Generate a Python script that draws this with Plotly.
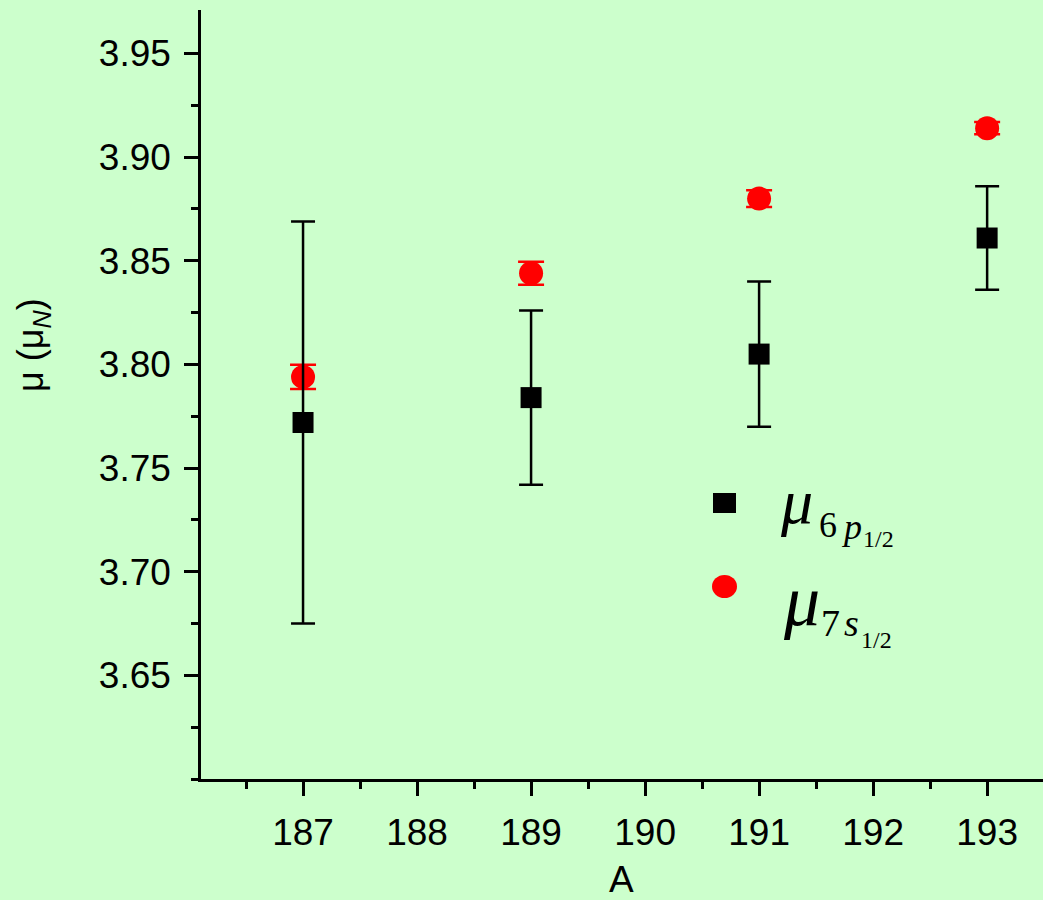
import plotly.graph_objects as go

# ---- data ----
mass_numbers = [187, 189, 191, 193]
mu_6p = [3.772, 3.784, 3.805, 3.861]
mu_6p_err = [0.097, 0.042, 0.035, 0.025]
mu_7s = [3.794, 3.844, 3.880, 3.914]
mu_7s_err = [0.0058, 0.0055, 0.004, 0.003]

x_ticks = [187, 188, 189, 190, 191, 192, 193]
y_ticks = [3.65, 3.70, 3.75, 3.80, 3.85, 3.90, 3.95]

BG = "#CCFFCC"
W, H = 1043, 900
L, R, T, B = 201, 0, 10, 121


def px(x):
    return (x - L) / (W - L - R)


def py(y):
    return (H - B - y) / (H - T - B)


fig = go.Figure()

fig.add_trace(go.Scatter(
    x=mass_numbers, y=mu_7s, mode="markers",
    marker=dict(symbol="circle", size=24, color="#FF0000", line=dict(width=0)),
    error_y=dict(type="data", array=mu_7s_err, visible=True, color="#FF0000",
                 thickness=2.5, width=13),
    showlegend=False,
))
fig.add_trace(go.Scatter(
    x=mass_numbers, y=mu_6p, mode="markers",
    marker=dict(symbol="square", size=21, color="#000000", line=dict(width=0)),
    error_y=dict(type="data", array=mu_6p_err, visible=True, color="#000000",
                 thickness=2.5, width=12),
    showlegend=False,
))

axis_font = dict(family="Liberation Sans, Arial", size=37, color="#000000")

fig.update_xaxes(
    range=[186.105, 193.49], tickmode="array", tickvals=x_ticks,
    ticktext=[str(v) for v in x_ticks],
    showline=True, linecolor="#000000", linewidth=2.5,
    ticks="outside", ticklen=14, tickwidth=2.5, tickcolor="#000000",
    minor=dict(ticks="outside", ticklen=7, tickwidth=2.5, tickcolor="#000000",
               dtick=0.5, showgrid=False),
    showgrid=False, zeroline=False, tickfont=axis_font,
    ticklabelstandoff=5,
)
fig.update_yaxes(
    range=[3.60, 3.971], tickmode="array", tickvals=y_ticks,
    ticktext=[f"{v:.2f}" for v in y_ticks],
    showline=True, linecolor="#000000", linewidth=2.5,
    ticks="outside", ticklen=14, tickwidth=2.5, tickcolor="#000000",
    minor=dict(ticks="outside", ticklen=7, tickwidth=2.5, tickcolor="#000000",
               dtick=0.025, showgrid=False),
    showgrid=False, zeroline=False, tickfont=axis_font,
    ticklabelstandoff=6,
)

serif = "Liberation Serif, Times New Roman"
ann = []
# axis titles
ann.append(dict(text="μ (μ<sub><i>N</i></sub>)", textangle=-90, x=px(33), y=py(345),
                xref="paper", yref="paper", xanchor="center", yanchor="middle",
                showarrow=False,
                font=dict(family="Liberation Sans, Arial", size=36, color="#000000")))
ann.append(dict(text="A", x=px(621), y=py(879), xref="paper", yref="paper",
                xanchor="center", yanchor="middle", showarrow=False,
                font=dict(family="Liberation Sans, Arial", size=37, color="#000000")))


def txt(text, left, baseline, size, italic=False):
    t = f"<i>{text}</i>" if italic else text
    ann.append(dict(text=t, x=px(left), y=py(baseline + 0.22 * size),
                    xref="paper", yref="paper", xanchor="left", yanchor="bottom",
                    showarrow=False, borderpad=0,
                    font=dict(family=serif, size=size, color="#000000")))


# legend text: mu_{6 p_{1/2}}
txt("μ", 779, 524, 64, True)
txt("6", 818, 538, 36)
txt("p", 840, 540, 36, True)
txt("1/2", 862, 548, 24)
# legend text: mu_{7 s_{1/2}}
txt("μ", 782, 626, 72, True)
txt("7", 820, 637, 38)
txt("s", 843, 637, 38, True)
txt("1/2", 860, 649, 24)

shapes = [
    dict(type="rect", xref="paper", yref="paper",
         x0=px(713), x1=px(736), y0=py(513), y1=py(493),
         fillcolor="#000000", line=dict(width=0)),
    dict(type="circle", xref="paper", yref="paper",
         x0=px(712), x1=px(737), y0=py(598), y1=py(575),
         fillcolor="#FF0000", line=dict(width=0)),
]

fig.update_layout(
    width=W, height=H,
    margin=dict(l=L, r=R, t=T, b=B, autoexpand=False),
    paper_bgcolor=BG, plot_bgcolor=BG,
    annotations=ann, shapes=shapes, showlegend=False,
)

fig.write_html("out.html")
